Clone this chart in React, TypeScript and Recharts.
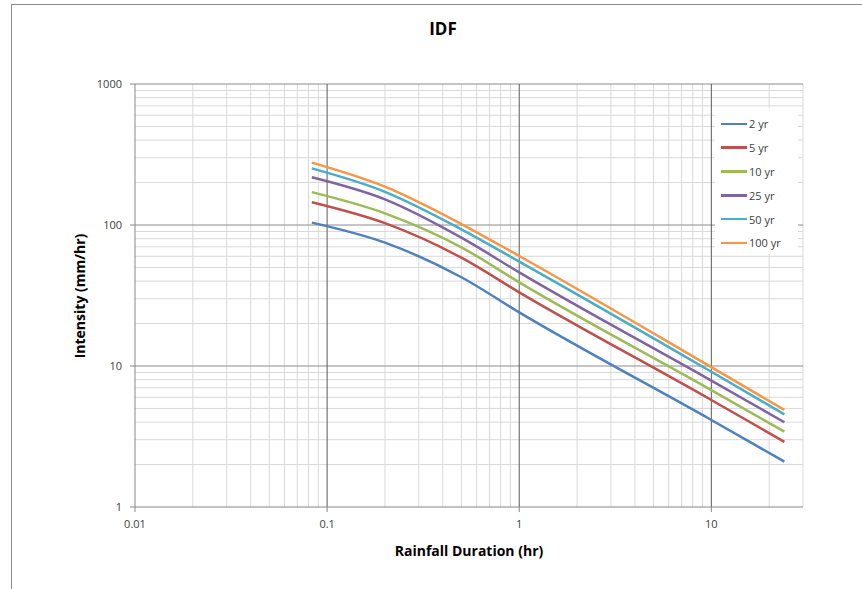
import React from 'react';
import { LineChart, Line, XAxis, YAxis, ReferenceLine } from 'recharts';

const durations = [0.0833, 0.2, 0.5, 1, 10, 24];
const yr2 = [104, 75, 42.6, 24.0, 4.14, 2.1];
const yr5 = [145, 103, 58.6, 33.3, 5.74, 2.9];
const yr10 = [171, 121, 69.5, 39.2, 6.75, 3.42];
const yr25 = [218, 152, 81.3, 46.1, 7.87, 3.99];
const yr50 = [252, 172, 93.2, 55.0, 9.1, 4.54];
const yr100 = [277, 187, 101.6, 60.3, 9.81, 4.88];

const seriesNames = ['2 yr', '5 yr', '10 yr', '25 yr', '50 yr', '100 yr'];
const seriesKeys = ['y2', 'y5', 'y10', 'y25', 'y50', 'y100'];
const seriesColors = ['#4F81BD', '#C0504D', '#9BBB59', '#8064A2', '#4BACC6', '#F79646'];
const seriesValues = [yr2, yr5, yr10, yr25, yr50, yr100];

const xTicks = [0.01, 0.1, 1, 10];
const yTicks = [1, 10, 100, 1000];
const xMinor = [0.02, 0.03, 0.04, 0.05, 0.06, 0.07, 0.08, 0.09, 0.2, 0.3, 0.4, 0.5, 0.6, 0.7, 0.8, 0.9, 2, 3, 4, 5, 6, 7, 8, 9, 20, 30];
const yMinor = [2, 3, 4, 5, 6, 7, 8, 9, 20, 30, 40, 50, 60, 70, 80, 90, 200, 300, 400, 500, 600, 700, 800, 900];
const xMajorGrid = [0.1, 1, 10];
const yMajorGrid = [10, 100, 1000];

const data = durations.map((d, i) => {
  const row: Record<string, number> = { d };
  seriesKeys.forEach((k, j) => {
    row[k] = seriesValues[j][i];
  });
  return row;
});

const FONT = '"Open Sans", "Noto Sans", sans-serif';

const fmt = (v: number) => String(v);

export default function App() {
  return (
    <div style={{ position: 'absolute', left: 0, top: 0, width: 862, height: 589, background: '#fff', overflow: 'hidden' }}>
      <div style={{ position: 'absolute', left: 11, top: 4, width: 900, height: 700, borderLeft: '1px solid #8a8a8a', borderTop: '1px solid #8a8a8a' }} />
      <div style={{ position: 'absolute', left: 0, top: 17, width: 886, textAlign: 'center', fontFamily: FONT, fontWeight: 700, fontSize: 17, color: '#000' }}>IDF</div>
      <div style={{ position: 'absolute', left: 79, top: 296, transform: 'translate(-50%, -50%) rotate(-90deg)', whiteSpace: 'nowrap', fontFamily: FONT, fontWeight: 700, fontSize: 14, color: '#000' }}>Intensity (mm/hr)</div>
      <div style={{ position: 'absolute', left: 469, top: 550, transform: 'translate(-50%, -50%)', whiteSpace: 'nowrap', fontFamily: FONT, fontWeight: 700, fontSize: 14, color: '#000' }}>Rainfall Duration (hr)</div>
      <div style={{ position: 'absolute', left: 0, top: 0 }}>
        <LineChart width={862} height={589} data={data} margin={{ top: 84, right: 59, bottom: 0, left: 0 }}>
          <XAxis
            dataKey="d"
            type="number"
            scale="log"
            domain={[0.01, 30]}
            allowDataOverflow
            ticks={xTicks}
            tickFormatter={fmt}
            height={82}
            tickSize={5}
            tickMargin={8}
            stroke="#868686"
            tick={{ fill: '#404040', fontSize: 11, fontFamily: FONT }}
          />
          <YAxis
            type="number"
            scale="log"
            domain={[1, 1000]}
            allowDataOverflow
            ticks={yTicks}
            tickFormatter={fmt}
            width={135}
            tickSize={5}
            tickMargin={8}
            stroke="#868686"
            tick={{ fill: '#404040', fontSize: 11, fontFamily: FONT }}
          />
          {xMinor.map((v) => (
            <ReferenceLine key={'xm' + v} x={v} stroke="#d9d9d9" strokeWidth={1} />
          ))}
          {yMinor.map((v) => (
            <ReferenceLine key={'ym' + v} y={v} stroke="#d9d9d9" strokeWidth={1} />
          ))}
          {yMajorGrid.map((v) => (
            <ReferenceLine key={'yM' + v} y={v} stroke="#8c8c8c" strokeWidth={1} />
          ))}
          {xMajorGrid.map((v) => (
            <ReferenceLine key={'xM' + v} x={v} stroke="#5a5a5a" strokeWidth={1} />
          ))}
          {seriesKeys.map((k, i) => (
            <Line
              key={k}
              dataKey={k}
              name={seriesNames[i]}
              type="monotone"
              stroke={seriesColors[i]}
              strokeWidth={2.5}
              dot={false}
              isAnimationActive={false}
            />
          ))}
        </LineChart>
      </div>
      <div style={{ position: 'absolute', left: 715, top: 108, width: 83, height: 146, background: '#fff', boxSizing: 'border-box', padding: '4px 0 0 6px', fontFamily: FONT, fontSize: 11, color: '#404040' }}>
        {seriesNames.map((n, i) => (
          <div key={n} style={{ display: 'flex', alignItems: 'center', height: 23.8 }}>
            <div style={{ width: 26, height: 2.5, background: seriesColors[i], marginRight: 2 }} />
            <span>{n}</span>
          </div>
        ))}
      </div>
    </div>
  );
}
